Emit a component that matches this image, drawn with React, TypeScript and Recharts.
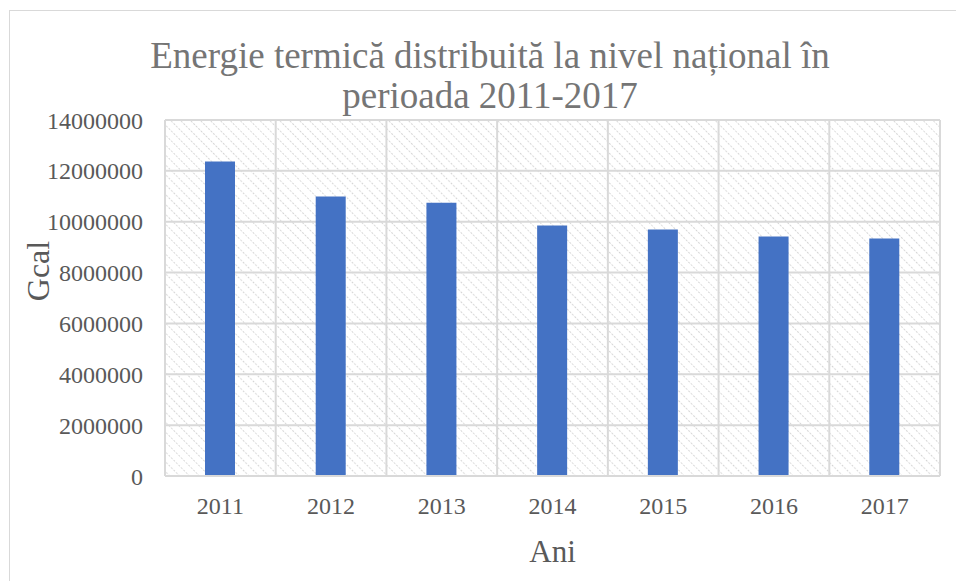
import { BarChart, Bar, XAxis, YAxis, CartesianGrid, Label } from "recharts";

// ani si valori (Gcal)
const years = ["2011", "2012", "2013", "2014", "2015", "2016", "2017"];
const gcal = [12370000, 10990000, 10750000, 9850000, 9690000, 9420000, 9340000];
const yTicks = [0, 2000000, 4000000, 6000000, 8000000, 10000000, 12000000, 14000000];

const data = years.map((an, i) => ({ an, gcal: gcal[i] }));

const FONT = '"Liberation Serif", "Times New Roman", serif';
const GRID = "#d9d9d9";

// linii verticale la marginea categoriilor, ca in Excel
const categoryEdges = (props: any) => {
  const { offset } = props;
  const step = offset.width / years.length;
  return years.map((_, i) => offset.left + i * step).concat(offset.left + offset.width);
};

export default function App() {
  return (
    <div style={{ position: "absolute", left: 0, top: 0, width: 956, height: 581, overflow: "hidden", background: "#fff" }}>
      <svg width={0} height={0} style={{ position: "absolute" }}>
        <defs>
          <pattern id="hatch" width={7} height={7} patternUnits="userSpaceOnUse" patternTransform="rotate(-45)">
            <line x1={0} y1={0} x2={0} y2={7} stroke="#d2d2d2" strokeWidth={1.8} strokeDasharray="2 1.5" />
          </pattern>
        </defs>
      </svg>
      <div
        style={{
          position: "absolute",
          left: 9,
          top: 10,
          width: 980,
          height: 620,
          border: "1px solid " + GRID,
        }}
      />
      <div
        style={{
          position: "absolute",
          left: 90,
          top: 36,
          width: 800,
          textAlign: "center",
          fontFamily: FONT,
          fontSize: 37,
          lineHeight: "40px",
          color: "#757575",
        }}
      >
        Energie termică distribuită la nivel național în
        <br />
        perioada 2011-2017
      </div>
      <BarChart
        width={956}
        height={581}
        data={data}
        margin={{ top: 120, right: 16, bottom: 0, left: 0 }}
        style={{ position: "absolute", left: 0, top: 0 }}
      >
        <CartesianGrid
          stroke={GRID}
          strokeWidth={2}
          fill="url(#hatch)"
          fillOpacity={1}
          verticalCoordinatesGenerator={categoryEdges}
        />
        <XAxis
          dataKey="an"
          height={105}
          axisLine={{ stroke: GRID, strokeWidth: 2 }}
          tickLine={false}
          tickSize={0}
          tickMargin={21}
          tick={{ fontFamily: FONT, fontSize: 24, fill: "#595959" }}
        >
          <Label
            content={(p: any) => (
              <text
                x={p.viewBox.x + p.viewBox.width / 2}
                y={562}
                textAnchor="middle"
                fontFamily={FONT}
                fontSize={31}
                fill="#595959"
              >
                Ani
              </text>
            )}
          />
        </XAxis>
        <YAxis
          width={165}
          domain={[0, 14000000]}
          ticks={yTicks}
          interval={0}
          axisLine={false}
          tickLine={false}
          tickSize={0}
          tickMargin={22}
          tick={{ fontFamily: FONT, fontSize: 24, fill: "#595959" }}
        >
          <Label
            content={() => (
              <text
                transform="translate(49, 271) rotate(-90)"
                textAnchor="middle"
                fontFamily={FONT}
                fontSize={32}
                fill="#595959"
              >
                Gcal
              </text>
            )}
          />
        </YAxis>
        <Bar dataKey="gcal" fill="#4472c4" barSize={30} isAnimationActive={false} />
      </BarChart>
    </div>
  );
}
